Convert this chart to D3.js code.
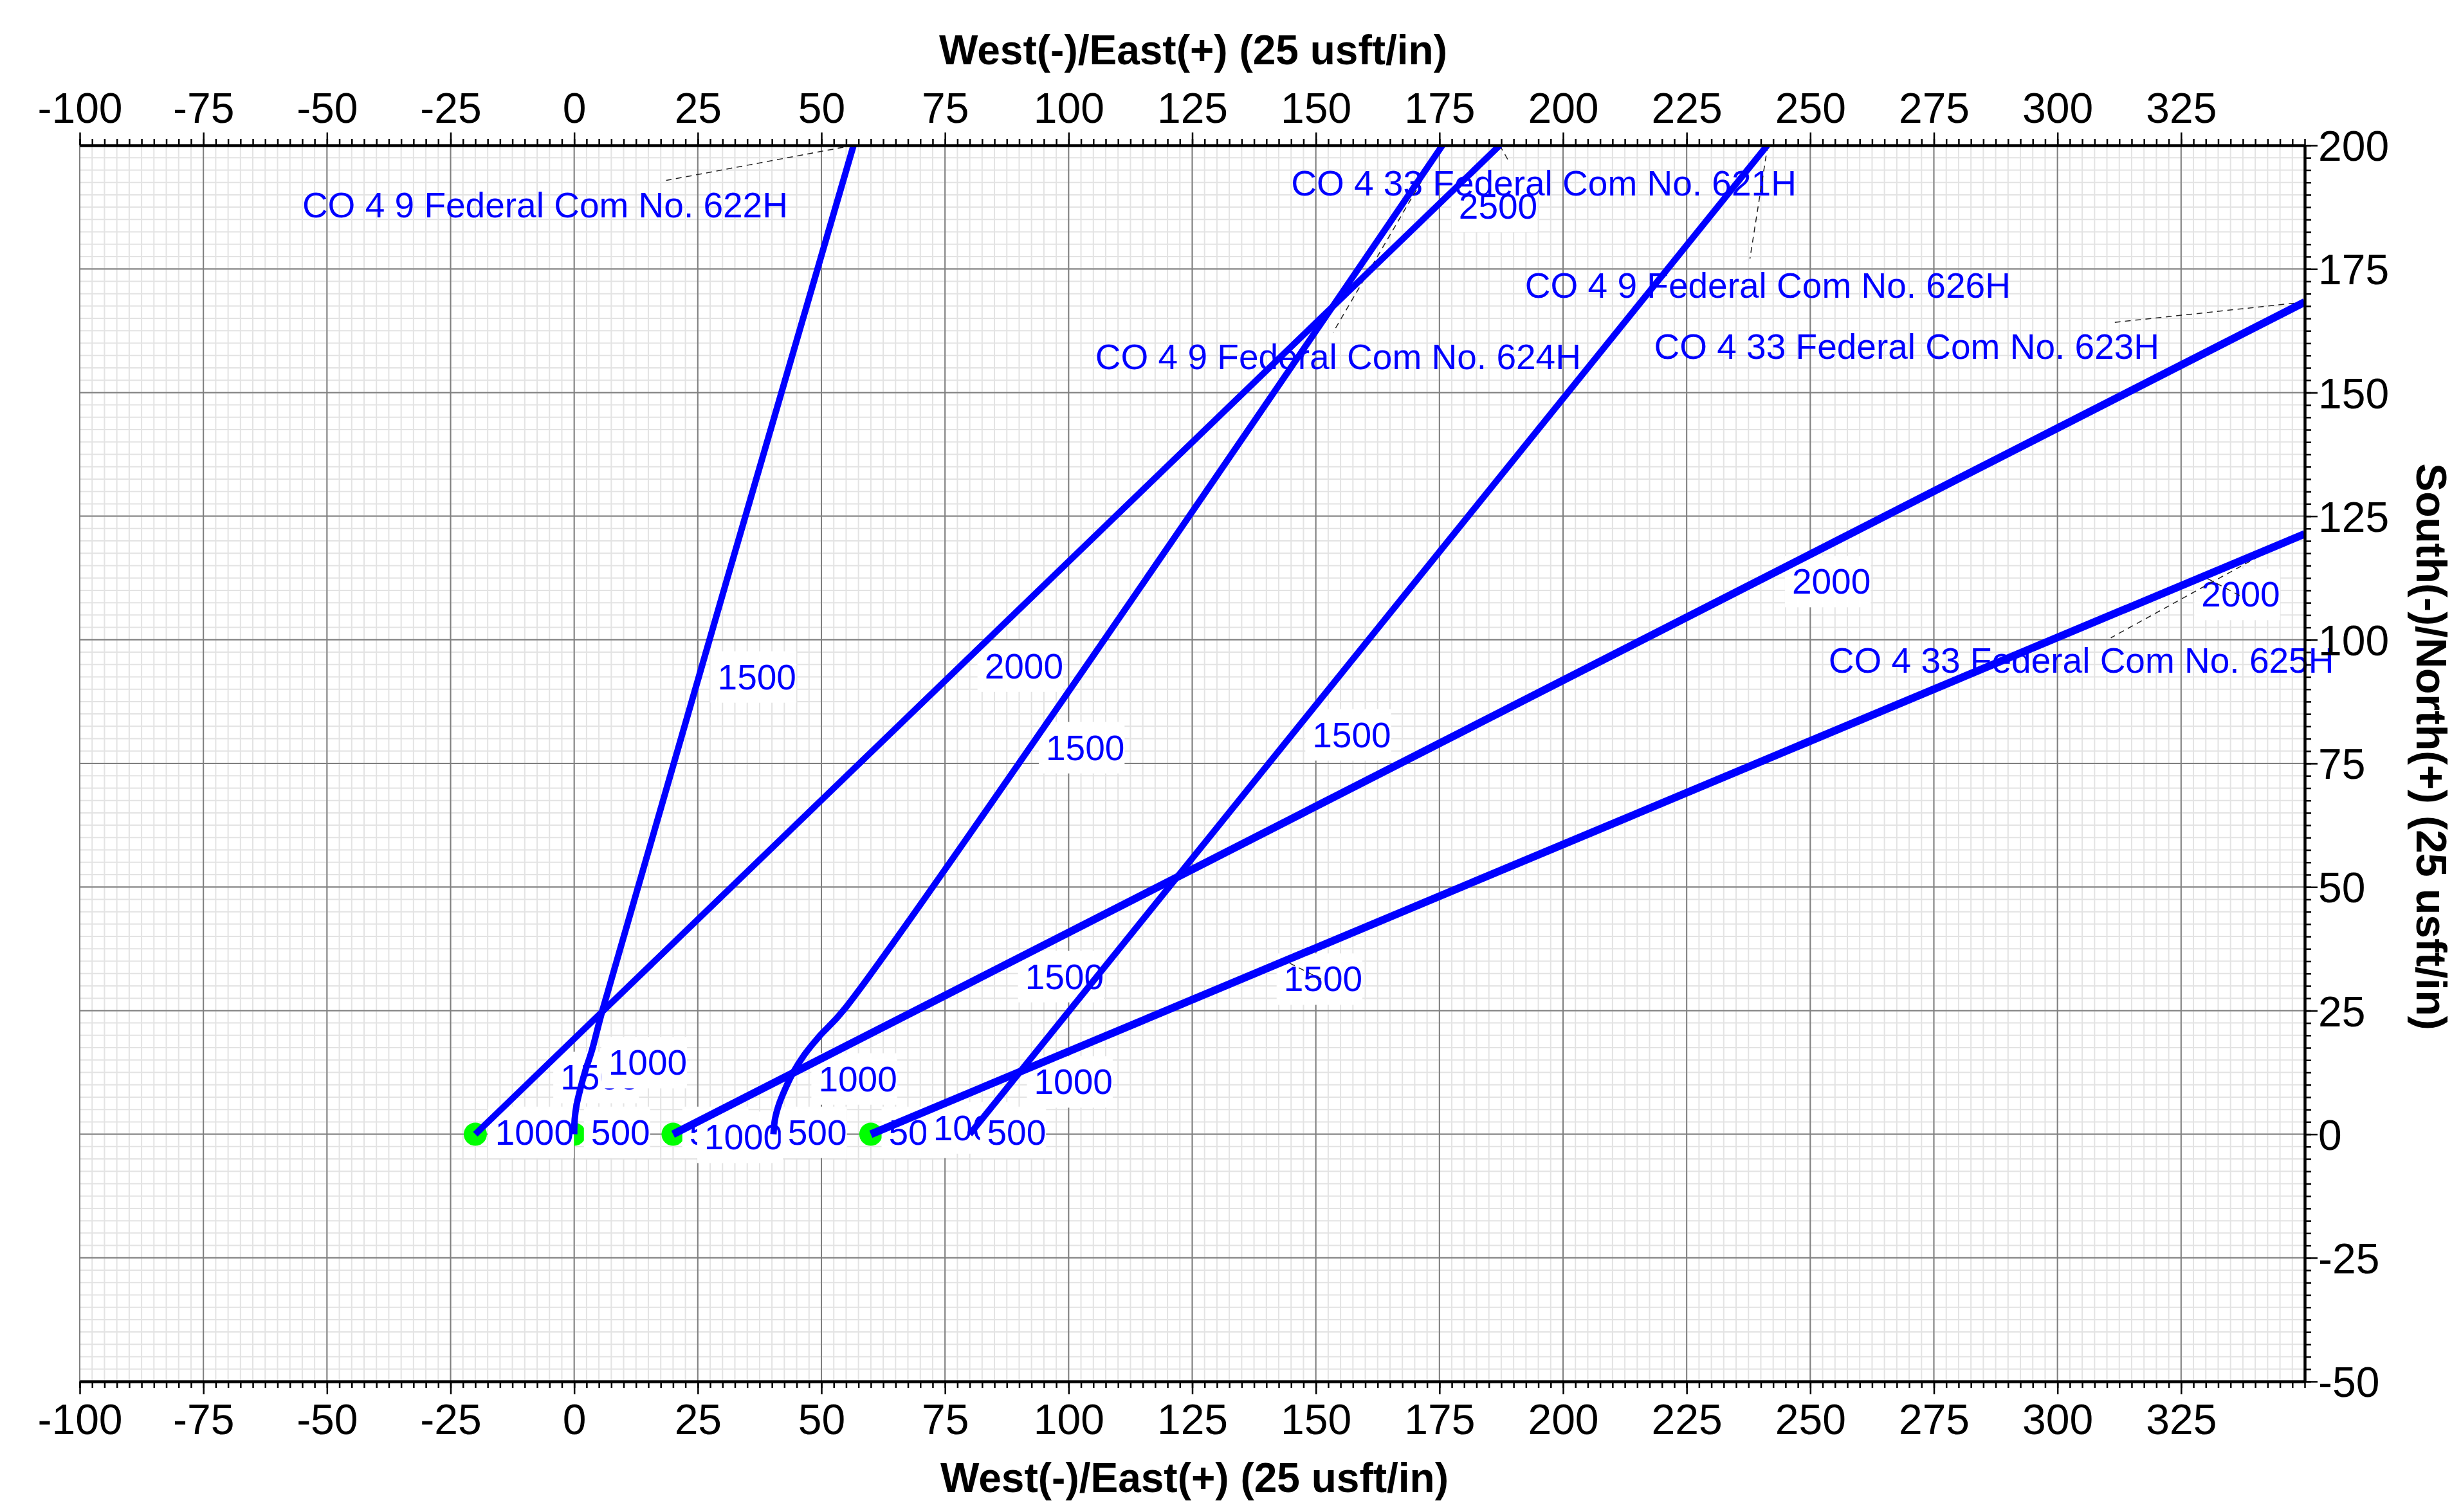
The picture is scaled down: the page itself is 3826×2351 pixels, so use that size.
<!DOCTYPE html>
<html>
<head>
<meta charset="utf-8">
<title>Plan View</title>
<script src="https://d3js.org/d3.v7.min.js"></script>
<style>
    body { margin: 0; background: #fff; }
    text { font-family: "Liberation Sans", Arial, sans-serif; }
</style>
</head>
<body>
<svg id="svg" width="3826" height="2351"></svg>
<script>
    // tick labels
    var xTicks = [-100, -75, -50, -25, 0, 25, 50, 75, 100, 125, 150, 175, 200, 225, 250, 275, 300, 325];
    var yTicks = [-50, -25, 0, 25, 50, 75, 100, 125, 150, 175, 200];

    // wells: name, path (E/W, N/S in usft), label anchor, leader
    var wellNames = [
        "CO 4 33 Federal Com No. 621H",
        "CO 4 9 Federal Com No. 622H",
        "CO 4 33 Federal Com No. 623H",
        "CO 4 9 Federal Com No. 624H",
        "CO 4 33 Federal Com No. 625H",
        "CO 4 9 Federal Com No. 626H"
    ];
    var wellPaths = [
        [[-20, 0], [187.2, 200]],
        [[0, 0], [0.1, 3], [0.5, 6], [1.2, 9], [2.3, 13], [3.6, 17], [5.7, 25], [56.5, 200]],
        [[20, 0], [350, 168.3]],
        [[40.3, 0], [40.6, 3], [41.4, 6], [42.6, 9], [44.3, 12.5], [46.5, 16], [49.4, 19.6], [54.9, 25.6], [175.6, 200]],
        [[60, 0], [350, 121.4]],
        [[80, 0], [241.3, 200]]
    ];
    var wellLabelAt = [[145.0, 189.8], [-55.0, 185.4], [218.4, 156.8], [105.4, 154.7], [253.7, 93.3], [192.3, 169.2]];
    var leaders = [
        [[187.2, 200], [188.9, 197]],
        [[56.5, 200], [18.6, 192.9]],
        [[350, 168.3], [311.6, 164.2]],
        [[175.6, 200], [153.5, 162.2]],
        [[342.6, 117.9], [310.8, 100.4]],
        [[241.4, 200], [237.8, 177.1]],
        [[330.3, 112.4], [336.9, 108.9]],
        [[144.7, 34.6], [151.0, 31.4]]
    ];
    var surfaceDots = [[-20, 0], [0, 0], [20, 0], [60, 0]];

    // measured depth markers: text, x, y
    var depthLabels = [
        ["1500", 29.0, 90.0],
        ["2000", 83.0, 92.2],
        ["1500", 95.4, 75.7],
        ["1500", 149.3, 78.3],
        ["2000", 246.3, 109.3],
        ["2000", 329.1, 106.7],
        ["1500", 91.2, 29.4],
        ["1500", 143.5, 28.9],
        ["2500", 178.9, 185.2],
        ["1500", -2.8, 9.0],
        ["1000", 6.9, 12.0],
        ["1000", -16.0, -2.1],
        ["500", 3.4, -2.1],
        ["500", 23.3, -2.1],
        ["1000", 26.3, -3.1],
        ["500", 43.2, -2.1],
        ["1000", 49.4, 8.7],
        ["500", 63.6, -2.1],
        ["1000", 72.6, -1.2],
        ["500", 83.5, -2.1],
        ["1000", 93.0, 8.1]
    ];

    var svg = d3.select("#svg");
    svg.append("rect").attr("width", "100%").attr("height", "100%").attr("fill", "white");

    var x = d3.scaleLinear().domain([-100, 350]).range([124, 3583]),
        y = d3.scaleLinear().domain([-50, 200]).range([2148, 226]);

    svg.append("clipPath").attr("id", "plot")
        .append("rect").attr("x", x(-100)).attr("y", y(200))
        .attr("width", x(350) - x(-100)).attr("height", y(-50) - y(200));

    // grid
    var grid = svg.append("g");
    var minorX = d3.range(-100, 350.01, 2.5), minorY = d3.range(-50, 200.01, 2.5);
    grid.selectAll(".mx").data(minorX).enter().append("line")
        .attr("x1", d => x(d)).attr("x2", d => x(d)).attr("y1", y(-50)).attr("y2", y(200))
        .attr("stroke", "#e3e3e3").attr("stroke-width", 2);
    grid.selectAll(".my").data(minorY).enter().append("line")
        .attr("y1", d => y(d)).attr("y2", d => y(d)).attr("x1", x(-100)).attr("x2", x(350))
        .attr("stroke", "#e3e3e3").attr("stroke-width", 2);
    grid.selectAll(".gx").data(xTicks).enter().append("line")
        .attr("x1", d => x(d)).attr("x2", d => x(d)).attr("y1", y(-50)).attr("y2", y(200))
        .attr("stroke", "#7f7f7f").attr("stroke-width", 2);
    grid.selectAll(".gy").data(yTicks).enter().append("line")
        .attr("y1", d => y(d)).attr("y2", d => y(d)).attr("x1", x(-100)).attr("x2", x(350))
        .attr("stroke", "#7f7f7f").attr("stroke-width", 2);

    // surface locations
    svg.append("g").selectAll("circle").data(surfaceDots).enter().append("circle")
        .attr("cx", d => x(d[0])).attr("cy", d => y(d[1])).attr("r", 18).attr("fill", "#00ff00");

    // depth markers with white boxes
    var md = svg.append("g");
    depthLabels.forEach(function (d) {
        var box = md.append("rect").attr("fill", "white");
        var t = md.append("text").attr("x", x(d[1])).attr("y", y(d[2]))
            .attr("font-size", 55).attr("fill", "#0000ff").text(d[0]);
        var w = t.node().getComputedTextLength();
        box.attr("x", x(d[1]) - 11).attr("y", y(d[2]) - 59).attr("width", w + 11).attr("height", 80);
    });

    // well names
    svg.append("g").selectAll("text").data(wellNames).enter().append("text")
        .attr("x", (d, i) => x(wellLabelAt[i][0])).attr("y", (d, i) => y(wellLabelAt[i][1]))
        .attr("font-size", 55).attr("fill", "#0000ff").text(d => d);

    // leader lines
    svg.append("g").selectAll("line").data(leaders).enter().append("line")
        .attr("x1", d => x(d[0][0])).attr("y1", d => y(d[0][1]))
        .attr("x2", d => x(d[1][0])).attr("y2", d => y(d[1][1]))
        .attr("stroke", "#222").attr("stroke-width", 1.5).attr("stroke-dasharray", "9,7");

    // well paths
    var line = d3.line().x(d => x(d[0])).y(d => y(d[1])).curve(d3.curveCatmullRom.alpha(0.5));
    svg.append("g").attr("clip-path", "url(#plot)").selectAll("path").data(wellPaths).enter().append("path")
        .attr("d", line).attr("fill", "none").attr("stroke", "#0000ff")
        .attr("stroke-width", (d, i) => (i == 2 || i == 4) ? 12 : 10);

    // axes
    var fmt = d => String(d);
    function styleAxis(g) {
        g.select(".domain").attr("stroke", "black").attr("stroke-width", 4);
        g.selectAll(".tick line").attr("stroke", "black").attr("stroke-width", 2.5);
        g.selectAll(".tick text").attr("font-size", 66).attr("font-family", "Liberation Sans, Arial, sans-serif").attr("fill", "black");
    }
    svg.append("g").attr("transform", "translate(0," + y(200) + ")")
        .call(d3.axisTop(x).tickValues(minorX).tickSize(10).tickSizeOuter(0).tickFormat(""))
        .call(styleAxis);
    svg.append("g").attr("transform", "translate(0," + y(200) + ")")
        .call(d3.axisTop(x).tickValues(xTicks).tickSize(20).tickSizeOuter(0).tickPadding(15).tickFormat(fmt))
        .call(styleAxis);
    svg.append("g").attr("transform", "translate(0," + y(-50) + ")")
        .call(d3.axisBottom(x).tickValues(minorX).tickSize(10).tickSizeOuter(0).tickFormat(""))
        .call(styleAxis);
    svg.append("g").attr("transform", "translate(0," + y(-50) + ")")
        .call(d3.axisBottom(x).tickValues(xTicks).tickSize(20).tickSizeOuter(0).tickPadding(15).tickFormat(fmt))
        .call(styleAxis);
    svg.append("g").attr("transform", "translate(" + x(350) + ",0)")
        .call(d3.axisRight(y).tickValues(minorY).tickSize(10).tickSizeOuter(0).tickFormat(""))
        .call(styleAxis);
    svg.append("g").attr("transform", "translate(" + x(350) + ",0)")
        .call(d3.axisRight(y).tickValues(yTicks).tickSize(20).tickSizeOuter(0).tickPadding(1).tickFormat(fmt))
        .call(styleAxis)
        .selectAll(".tick text").attr("dy", "0.36em");

    // axis titles
    var title = "West(-)/East(+) (25 usft/in)";
    svg.append("text").attr("x", 1855).attr("y", 100).attr("text-anchor", "middle")
        .attr("font-size", 64).attr("font-weight", "bold").text(title);
    svg.append("text").attr("x", 1857).attr("y", 2320).attr("text-anchor", "middle")
        .attr("font-size", 64).attr("font-weight", "bold").text(title);
    svg.append("text").attr("transform", "translate(3757,1161) rotate(90)").attr("text-anchor", "middle")
        .attr("font-size", 66).attr("font-weight", "bold").text("South(-)/North(+) (25 usft/in)");
</script>
</body>
</html>
